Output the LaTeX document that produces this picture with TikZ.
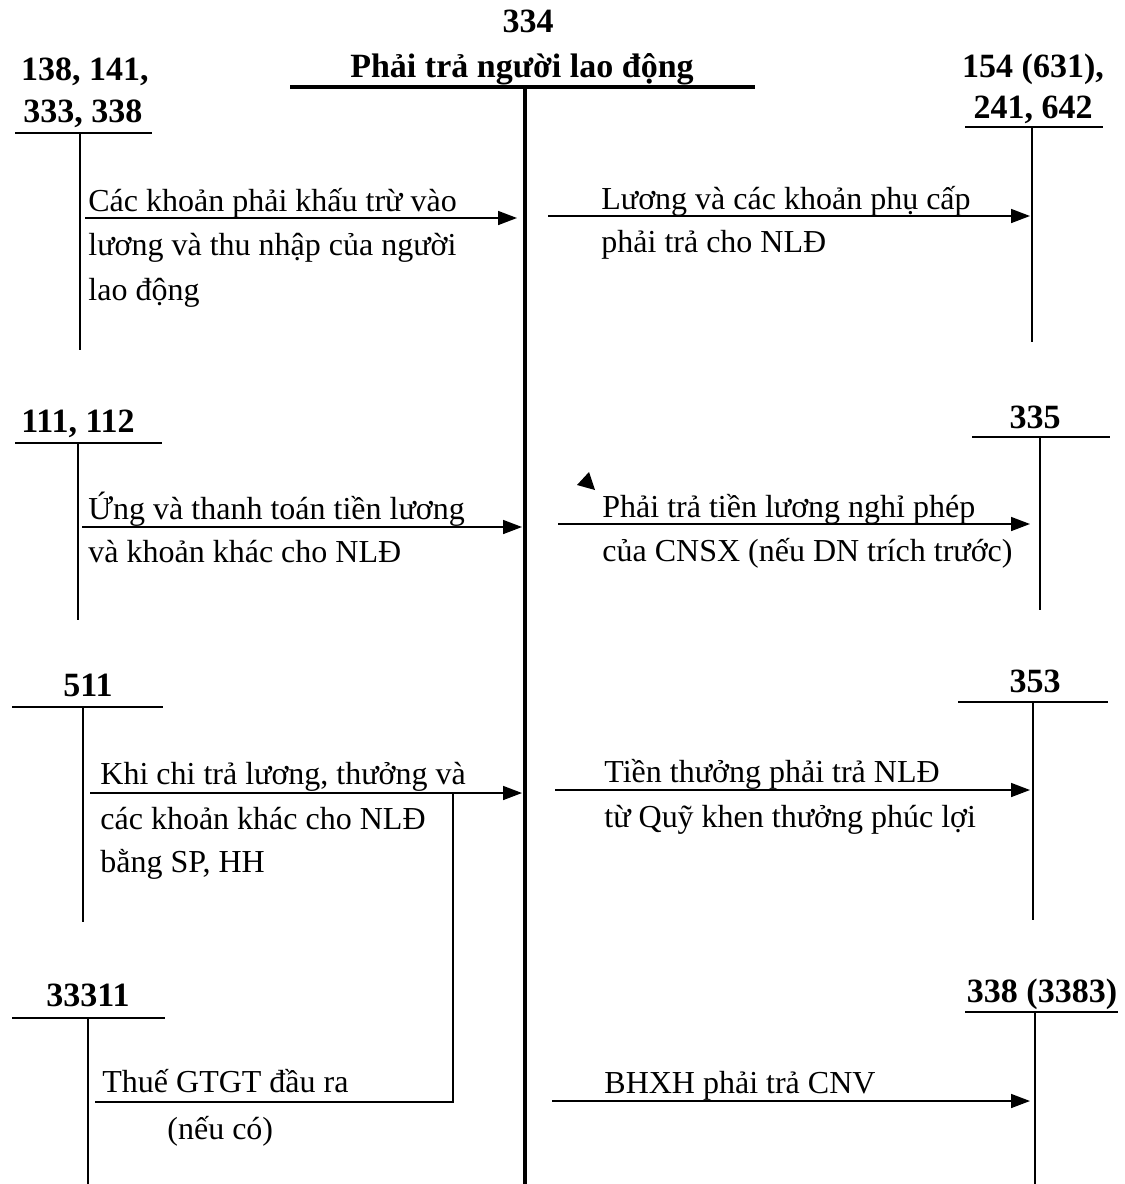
\documentclass[tikz,border=0pt]{standalone}
\usepackage{fontspec}
\setmainfont{Liberation Serif}
\usetikzlibrary{arrows.meta}
\begin{document}
\begin{tikzpicture}[x=0.5pt,y=-0.5pt,
  lbl/.style={font=\fontsize{17}{20}\selectfont\bfseries, inner sep=0pt, anchor=base},
  txt/.style={font=\fontsize{16}{20}\selectfont, inner sep=0pt, anchor=base west},
  ledger/.style={line width=1.1pt},
  mainline/.style={line width=1.6pt},
  flow/.style={line width=0.8pt, -{Triangle[length=9.5pt,width=7pt]}},
  plain/.style={line width=0.8pt}]
\useasboundingbox (0,0) rectangle (1125,1184);

% central account 334
\node[lbl] (n334) at (528,32) {334};
\node[lbl] (ntitle) at (522,77) {Phải trả người lao động};
\coordinate (mL) at (290,87); \coordinate (mR) at (755,87);
\coordinate (mT) at (525,87); \coordinate (mB) at (525,1184);
\draw[mainline] (mL) -- (mR);
\draw[mainline] (mT) -- (mB);

% ---------- left accounts ----------
\node[lbl] (a1a) at (85,80) {138, 141,};
\node[lbl] (a1b) at (83,122) {333, 338};
\coordinate (a1L) at (15,133); \coordinate (a1R) at (152,133);
\coordinate (a1T) at (80,133); \coordinate (a1B) at (80,350);
\draw[ledger] (a1L) -- (a1R); \draw[ledger] (a1T) -- (a1B);

\node[lbl] (a2) at (78,432) {111, 112};
\coordinate (a2L) at (15,443); \coordinate (a2R) at (162,443);
\coordinate (a2T) at (78,443); \coordinate (a2B) at (78,620);
\draw[ledger] (a2L) -- (a2R); \draw[ledger] (a2T) -- (a2B);

\node[lbl] (a3) at (88,696) {511};
\coordinate (a3L) at (12,707); \coordinate (a3R) at (163,707);
\coordinate (a3T) at (83,707); \coordinate (a3B) at (83,922);
\draw[ledger] (a3L) -- (a3R); \draw[ledger] (a3T) -- (a3B);

\node[lbl] (a4) at (88,1006) {33311};
\coordinate (a4L) at (12,1018); \coordinate (a4R) at (165,1018);
\coordinate (a4T) at (88,1018); \coordinate (a4B) at (88,1184);
\draw[ledger] (a4L) -- (a4R); \draw[ledger] (a4T) -- (a4B);

% ---------- right accounts ----------
\node[lbl] (b1a) at (1033,77) {154 (631),};
\node[lbl] (b1b) at (1033,118) {241, 642};
\coordinate (b1L) at (965,127); \coordinate (b1R) at (1103,127);
\coordinate (b1T) at (1032,127); \coordinate (b1B) at (1032,342);
\draw[ledger] (b1L) -- (b1R); \draw[ledger] (b1T) -- (b1B);

\node[lbl] (b2) at (1035,428) {335};
\coordinate (b2L) at (972,437); \coordinate (b2R) at (1110,437);
\coordinate (b2T) at (1040,437); \coordinate (b2B) at (1040,610);
\draw[ledger] (b2L) -- (b2R); \draw[ledger] (b2T) -- (b2B);

\node[lbl] (b3) at (1035,692) {353};
\coordinate (b3L) at (958,702); \coordinate (b3R) at (1108,702);
\coordinate (b3T) at (1033,702); \coordinate (b3B) at (1033,920);
\draw[ledger] (b3L) -- (b3R); \draw[ledger] (b3T) -- (b3B);

\node[lbl] (b4) at (1042,1002) {338 (3383)};
\coordinate (b4L) at (965,1012); \coordinate (b4R) at (1118,1012);
\coordinate (b4T) at (1035,1012); \coordinate (b4B) at (1035,1184);
\draw[ledger] (b4L) -- (b4R); \draw[ledger] (b4T) -- (b4B);

% ---------- flows left -> 334 ----------
\coordinate (f1s) at (85,218); \coordinate (f1e) at (517,218);
\draw[flow] (f1s) -- (f1e);
\node[txt] (t1a) at (88,211) {Các khoản phải khấu trừ vào};
\node[txt] (t1b) at (88,255) {lương và thu nhập của người};
\node[txt] (t1c) at (88,300) {lao động};

\coordinate (f2s) at (82,527); \coordinate (f2e) at (522,527);
\draw[flow] (f2s) -- (f2e);
\node[txt] (t2a) at (88,519) {Ứng và thanh toán tiền lương};
\node[txt] (t2b) at (88,562) {và khoản khác cho NLĐ};

\coordinate (f3s) at (90,793); \coordinate (f3e) at (522,793);
\draw[flow] (f3s) -- (f3e);
\node[txt] (t3a) at (100,784) {Khi chi trả lương, thưởng và};
\node[txt] (t3b) at (100,829) {các khoản khác cho NLĐ};
\node[txt] (t3c) at (100,872) {bằng SP, HH};

\coordinate (v3t) at (453,793); \coordinate (v3b) at (453,1102);
\coordinate (f4s) at (95,1102);
\draw[plain] (v3t) -- (v3b) -- (f4s);
\node[txt] (t4a) at (102,1092) {Thuế GTGT đầu ra};
\node[txt] (t4b) at (167,1139) {(nếu có)};

% ---------- flows 334 -> right ----------
\coordinate (g1s) at (548,216); \coordinate (g1e) at (1030,216);
\draw[flow] (g1s) -- (g1e);
\node[txt] (u1a) at (601,209) {Lương và các khoản phụ cấp};
\node[txt] (u1b) at (601,252) {phải trả cho NLĐ};

\coordinate (g2s) at (558,524); \coordinate (g2e) at (1030,524);
\draw[flow] (g2s) -- (g2e);
\node[txt] (u2a) at (602,517) {Phải trả tiền lương nghỉ phép};
\node[txt] (u2b) at (602,561) {của CNSX (nếu DN trích trước)};

\coordinate (g3s) at (555,790); \coordinate (g3e) at (1030,790);
\draw[flow] (g3s) -- (g3e);
\node[txt] (u3a) at (604,782) {Tiền thưởng phải trả NLĐ};
\node[txt] (u3b) at (604,827) {từ Quỹ khen thưởng phúc lợi};

\coordinate (g4s) at (552,1101); \coordinate (g4e) at (1030,1101);
\draw[flow] (g4s) -- (g4e);
\node[txt] (u4a) at (604,1093) {BHXH phải trả CNV};

% stray arrowhead mark
\fill (589,472) -- (595,490) -- (577,485) -- cycle;
\end{tikzpicture}
\end{document}
